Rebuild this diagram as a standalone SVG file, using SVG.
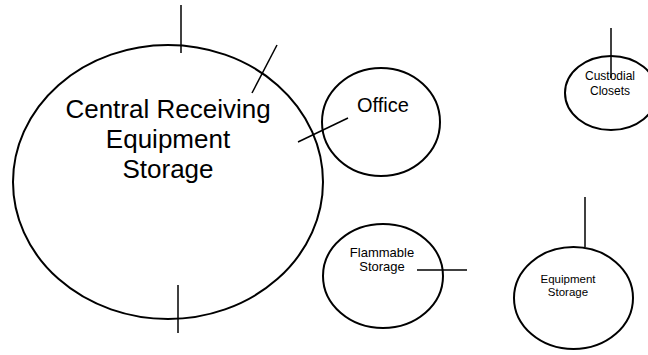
<svg xmlns="http://www.w3.org/2000/svg" width="648" height="355" viewBox="0 0 648 355">
<style>
.n{fill:none;stroke:#000;stroke-width:2}
.c{stroke:#000;stroke-width:1.5;fill:none}
text{font-family:"Liberation Sans",Arial,sans-serif;fill:#000;text-anchor:middle}
.big{font-size:26px}
.med{font-size:20px}
.sm{font-size:13px}
.cs{font-size:12px}
.xs{font-size:11.5px}
</style>
<rect width="648" height="355" fill="#fff"/>
<g id="central-receiving">
<ellipse class="n" cx="168" cy="182" rx="155" ry="137"/>
<text class="big" x="168" y="118">Central Receiving</text>
<text class="big" x="168" y="148">Equipment</text>
<text class="big" x="168" y="178">Storage</text>
</g>
<g id="office">
<ellipse class="n" cx="381" cy="122" rx="59" ry="54"/>
<text class="med" x="383" y="112">Office</text>
</g>
<g id="flammable-storage">
<ellipse class="n" cx="383" cy="276" rx="60" ry="52"/>
<text class="sm" x="382" y="257">Flammable</text>
<text class="sm" x="382" y="271">Storage</text>
</g>
<g id="custodial-closets">
<ellipse class="n" cx="611" cy="93" rx="46" ry="37"/>
<text class="cs" x="610" y="80">Custodial</text>
<text class="cs" x="610" y="95">Closets</text>
</g>
<g id="equipment-storage">
<ellipse class="n" cx="573.5" cy="298" rx="59.5" ry="51"/>
<text class="xs" x="568" y="283">Equipment</text>
<text class="xs" x="568" y="296">Storage</text>
</g>
<g id="connectors">
<line class="c" x1="181" y1="5" x2="181" y2="53"/>
<line class="c" x1="178" y1="285" x2="178" y2="333"/>
<line class="c" x1="277" y1="45" x2="252" y2="93"/>
<line class="c" x1="298" y1="142" x2="348" y2="118"/>
<line class="c" x1="417" y1="270" x2="467" y2="270"/>
<line class="c" x1="611" y1="28" x2="611" y2="78"/>
<line class="c" x1="585" y1="197" x2="585" y2="247"/>
</g>
</svg>
